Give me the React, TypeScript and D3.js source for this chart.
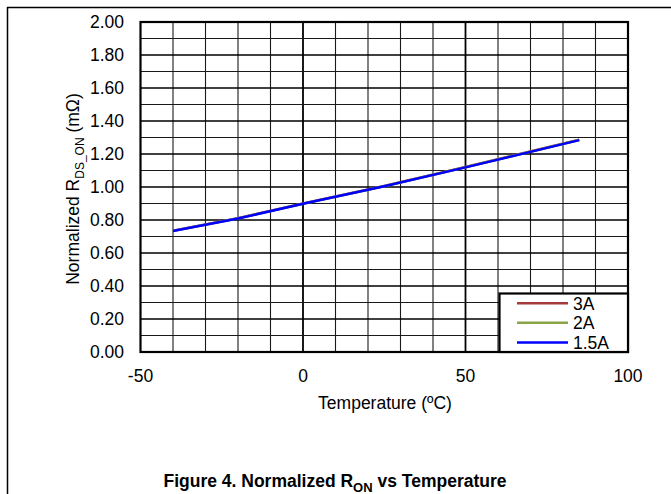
import React from "react";
import * as d3 from "d3";

const temps = [-40, -20, 0, 25, 50, 85];
const series3A = [0.735, 0.811, 0.9, 1.006, 1.121, 1.286];
const series2A = [0.734, 0.81, 0.899, 1.005, 1.12, 1.285];
const series15A = [0.733, 0.809, 0.898, 1.004, 1.119, 1.284];
const seriesNames = ["3A", "2A", "1.5A"];
const seriesColors = ["#A63B3B", "#8AA548", "#0000FF"];
const xTicks = [-50, 0, 50, 100];
const yTicks = [0, 0.2, 0.4, 0.6, 0.8, 1.0, 1.2, 1.4, 1.6, 1.8, 2.0];

const W = 671;
const H = 494;
const FONT = "'Liberation Sans', Arial, sans-serif";
const FS = 17.5;

export default function App() {
  const x = d3.scaleLinear().domain([-50, 100]).range([140.5, 628]);
  const y = d3.scaleLinear().domain([0, 2]).range([352, 22]);
  const allSeries = [series3A, series2A, series15A];

  const line = d3
    .line<number>()
    .x((_, i) => x(temps[i]))
    .y((d) => y(d));

  const vGrid = d3.range(-40, 100, 10);
  const hGrid = d3.range(1, 20).map((k) => k / 10);

  const legX0 = 499.5;
  const legY0 = 293.5;
  const legRowY = [303.3, 322.7, 342.5];

  return (
    <svg
      width={W}
      height={H}
      style={{ position: "absolute", left: 0, top: 0, background: "#fff" }}
      fontFamily={FONT}
    >
      <rect x={0} y={0} width={W} height={H} fill="#fff" />
      {/* outer frame lines */}
      <line x1={7} x2={W} y1={7.5} y2={7.5} stroke="#000" strokeWidth={1.5} />
      <line x1={7.5} x2={7.5} y1={7} y2={H} stroke="#000" strokeWidth={1.5} />

      {/* grid */}
      {vGrid.map((v) => (
        <line
          key={"v" + v}
          x1={x(v)}
          x2={x(v)}
          y1={y(0)}
          y2={y(2)}
          stroke={v % 50 === 0 ? "#000" : "#1a1a1a"}
          strokeWidth={v % 50 === 0 ? 1.8 : 1.1}
        />
      ))}
      {hGrid.map((v) => {
        const major = Math.round(v * 10) % 2 === 0;
        return (
          <line
            key={"h" + v}
            x1={x(-50)}
            x2={x(100)}
            y1={y(v)}
            y2={y(v)}
            stroke={major ? "#000" : "#1a1a1a"}
            strokeWidth={major ? 1.6 : 1.1}
          />
        );
      })}

      {/* plot border */}
      <rect
        x={x(-50)}
        y={y(2)}
        width={x(100) - x(-50)}
        height={y(0) - y(2)}
        fill="none"
        stroke="#000"
        strokeWidth={2.2}
      />

      {/* series */}
      {allSeries.map((s, i) => (
        <path
          key={seriesNames[i]}
          d={line(s) || ""}
          fill="none"
          stroke={seriesColors[i]}
          strokeWidth={2.5}
        />
      ))}

      {/* y tick labels */}
      {yTicks.map((t) => (
        <text
          key={"yt" + t}
          x={124}
          y={y(t)}
          dy="0.36em"
          textAnchor="end"
          fontSize={FS}
          fill="#000"
        >
          {t.toFixed(2)}
        </text>
      ))}

      {/* x tick labels */}
      {xTicks.map((t) => (
        <text
          key={"xt" + t}
          x={x(t)}
          y={381.5}
          textAnchor="middle"
          fontSize={FS}
          fill="#000"
        >
          {t}
        </text>
      ))}

      {/* axis titles */}
      <text x={385} y={408.5} textAnchor="middle" fontSize={FS} fill="#000">
        Temperature (ºC)
      </text>
      <text
        transform={`translate(79,${y(1) + 2}) rotate(-90)`}
        textAnchor="middle"
        fontSize={FS}
        fill="#000"
      >
        Normalized R
        <tspan fontSize={12} dy={4.5}>
          DS_ON
        </tspan>
        <tspan dy={-4.5}> (mΩ)</tspan>
      </text>

      {/* legend */}
      <rect
        x={legX0}
        y={legY0}
        width={x(100) - legX0}
        height={y(0) - legY0}
        fill="#fff"
        stroke="#000"
        strokeWidth={2.2}
      />
      {seriesNames.map((n, i) => (
        <g key={"leg" + n}>
          <line
            x1={517}
            x2={568}
            y1={legRowY[i]}
            y2={legRowY[i]}
            stroke={seriesColors[i]}
            strokeWidth={2.5}
          />
          <text x={573} y={legRowY[i]} dy="0.36em" fontSize={FS} fill="#000">
            {n}
          </text>
        </g>
      ))}

      {/* figure caption */}
      <text
        x={335}
        y={487}
        textAnchor="middle"
        fontSize={FS}
        fontWeight="bold"
        fill="#000"
      >
        Figure 4. Normalized R
        <tspan fontSize={13} dy={4.5}>
          ON
        </tspan>
        <tspan dy={-4.5}> vs Temperature</tspan>
      </text>
    </svg>
  );
}
